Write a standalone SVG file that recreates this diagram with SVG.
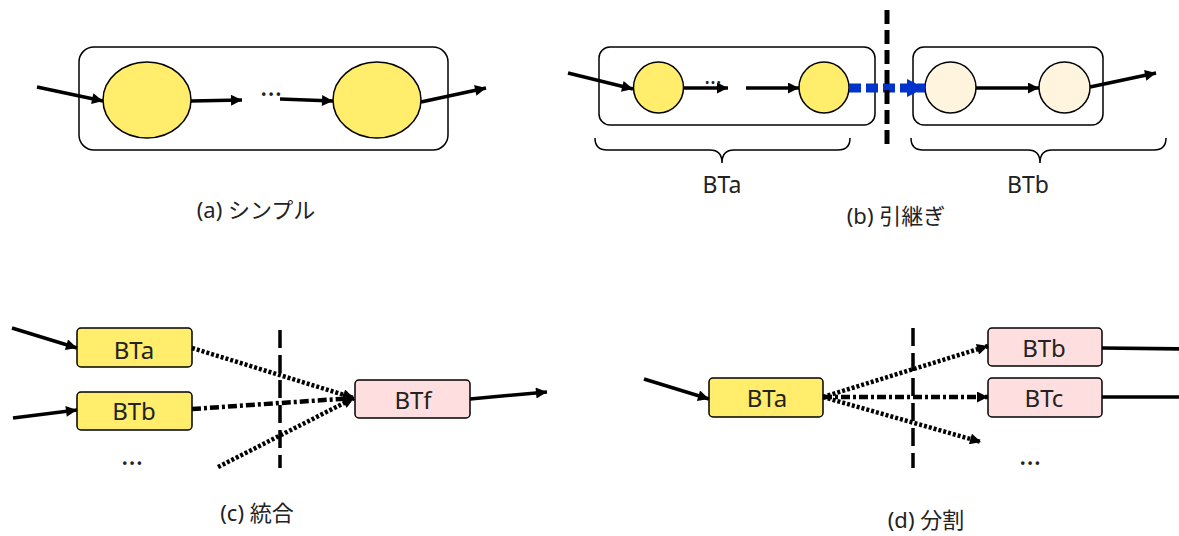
<svg xmlns="http://www.w3.org/2000/svg" width="1179" height="536" viewBox="0 0 1179 536">
  <defs>
    <style>
      .txt { font-family: "Noto Sans", "Noto Sans CJK JP", sans-serif; font-size: 22px; fill: #222; text-anchor: middle; }
      .lbl { font-size: 24px; }
      .ell { font-size: 28px; }
      .box { stroke: #000; stroke-width: 1.5; fill: none; }
      .proc { stroke: #000; stroke-width: 1.5; }
      .yel { fill: #FFED6B; }
      .cream { fill: #FFF5DE; }
      .pink { fill: #FFDEE0; }
      .arrow { stroke: #000; stroke-width: 3.5; fill: none; marker-end: url(#ah); }
      .dot { stroke: #000; stroke-width: 4.5; fill: none; stroke-dasharray: 3 2; marker-end: url(#ahs); }
      .dashdot { stroke: #000; stroke-width: 4.5; fill: none; stroke-dasharray: 9 3 3 3; marker-end: url(#ahs); }
      .cut { stroke: #000; fill: none; }
      .brace { stroke: #000; stroke-width: 1.5; fill: none; }
    </style>
    <marker id="ah" viewBox="0 0 10 10" refX="10" refY="5" markerWidth="15" markerHeight="11" markerUnits="userSpaceOnUse" orient="auto">
      <path d="M0,0 L10,5 L0,10 z" fill="#000"/>
    </marker>
    <marker id="ahs" viewBox="0 0 10 10" refX="10" refY="5" markerWidth="12" markerHeight="11" markerUnits="userSpaceOnUse" orient="auto">
      <path d="M0,0 L10,5 L0,10 z" fill="#000"/>
    </marker>
    <marker id="ahb" viewBox="0 0 10 10" refX="10" refY="5" markerWidth="18" markerHeight="20" markerUnits="userSpaceOnUse" orient="auto">
      <path d="M0,0 L10,5 L0,10 z" fill="#0033CC"/>
    </marker>
  </defs>

  <!-- (a) simple -->
  <g id="a-frame"><rect class="box" x="79" y="47" width="369" height="103" rx="15"/></g>
  <g id="a-step1"><ellipse class="proc yel" cx="147" cy="100" rx="44" ry="38"/></g>
  <g id="a-step2"><ellipse class="proc yel" cx="377" cy="100" rx="44" ry="38"/></g>
  <g id="a-connectors">
    <line class="arrow" x1="37" y1="87" x2="103" y2="101"/>
    <line class="arrow" x1="191" y1="101" x2="242" y2="100"/>
    <line class="arrow" x1="280" y1="99" x2="333" y2="101"/>
    <line class="arrow" x1="421" y1="102" x2="486" y2="88"/>
  </g>
  <text class="txt ell" x="271" y="96">…</text>
  <text class="txt" x="256" y="218">(a) シンプル</text>

  <!-- (b) hand-over -->
  <g id="b-frame-a"><rect class="box" x="599" y="47" width="276" height="78" rx="11"/></g>
  <g id="b-frame-b"><rect class="box" x="913" y="47" width="190" height="78" rx="11"/></g>
  <g id="b-step1"><ellipse class="proc yel" cx="658.5" cy="87.5" rx="25" ry="25.5"/></g>
  <g id="b-step2"><ellipse class="proc yel" cx="824" cy="87.5" rx="25" ry="25.5"/></g>
  <g id="b-step3"><ellipse class="proc cream" cx="950.5" cy="87.5" rx="25.5" ry="25.5"/></g>
  <g id="b-step4"><ellipse class="proc cream" cx="1064.5" cy="87.5" rx="25.5" ry="25.5"/></g>
  <g id="b-connectors">
    <line class="arrow" x1="568" y1="73" x2="633" y2="89"/>
    <line class="arrow" x1="684" y1="88" x2="728" y2="88"/>
    <line class="arrow" x1="746" y1="88" x2="799" y2="88"/>
    <line x1="849" y1="88" x2="925" y2="88" stroke="#0033CC" stroke-width="9" stroke-dasharray="12 5" marker-end="url(#ahb)"/>
    <line class="arrow" x1="976" y1="88" x2="1039" y2="88"/>
    <line class="arrow" x1="1090" y1="87" x2="1156" y2="73"/>
  </g>
  <line class="cut" x1="887" y1="10" x2="887" y2="150" stroke-width="5" stroke-dasharray="14 6"/>
  <text class="txt" x="713" y="84" style="font-size:22px">…</text>
  <path class="brace" d="M595,138 Q595,150 607,150 L710,150 Q722,150 722,163 Q722,150 734,150 L838,150 Q850,150 850,138"/>
  <path class="brace" d="M911,138 Q911,150 923,150 L1028,150 Q1040,150 1040,163 Q1040,150 1052,150 L1154,150 Q1166,150 1166,138"/>
  <text class="txt" x="722" y="193" style="font-size:23px">BTa</text>
  <text class="txt" x="1028" y="193" style="font-size:23px">BTb</text>
  <text class="txt" x="896" y="224">(b) 引継ぎ</text>

  <!-- (c) merge -->
  <g id="c-BTa"><rect class="proc yel" x="77" y="328" width="115" height="39" rx="4"/><text class="txt lbl" x="134" y="359">BTa</text></g>
  <g id="c-BTb"><rect class="proc yel" x="77" y="392" width="115" height="38" rx="4"/><text class="txt lbl" x="134" y="420">BTb</text></g>
  <g id="c-BTf"><rect class="proc pink" x="355" y="380" width="115" height="38" rx="4"/><text class="txt lbl" x="413" y="409">BTf</text></g>
  <g id="c-connectors">
    <line class="arrow" x1="12" y1="328" x2="77" y2="348"/>
    <line class="arrow" x1="13" y1="418" x2="77" y2="410"/>
    <line class="dot" x1="192" y1="348" x2="354" y2="398"/>
    <line class="dashdot" x1="192" y1="409" x2="354" y2="398"/>
    <line class="dot" x1="218" y1="467" x2="354" y2="398"/>
    <line class="arrow" x1="470" y1="399" x2="547" y2="392"/>
  </g>
  <line class="cut" x1="280" y1="330" x2="280" y2="468" stroke-width="3.5" stroke-dasharray="18 7"/>
  <text class="txt ell" x="132" y="465">…</text>
  <text class="txt" x="257" y="521">(c) 統合</text>

  <!-- (d) split -->
  <g id="d-BTa"><rect class="proc yel" x="709" y="378" width="114" height="39" rx="4"/><text class="txt lbl" x="767" y="407">BTa</text></g>
  <g id="d-BTb"><rect class="proc pink" x="988" y="328" width="114" height="38" rx="4"/><text class="txt lbl" x="1044" y="357">BTb</text></g>
  <g id="d-BTc"><rect class="proc pink" x="988" y="378" width="114" height="39" rx="4"/><text class="txt lbl" x="1044" y="407">BTc</text></g>
  <g id="d-connectors">
    <line class="arrow" x1="644" y1="379" x2="709" y2="399"/>
    <line class="dot" x1="823" y1="397" x2="988" y2="346"/>
    <line class="dashdot" x1="823" y1="397" x2="988" y2="397"/>
    <line class="dot" x1="823" y1="397" x2="981" y2="442"/>
    <line class="arrow" x1="1102" y1="348" x2="1190" y2="349"/>
    <line class="arrow" x1="1102" y1="397" x2="1190" y2="397"/>
  </g>
  <line class="cut" x1="913" y1="328" x2="913" y2="468" stroke-width="3.5" stroke-dasharray="18 7"/>
  <text class="txt ell" x="1030" y="465">…</text>
  <text class="txt" x="926" y="528">(d) 分割</text>
</svg>
